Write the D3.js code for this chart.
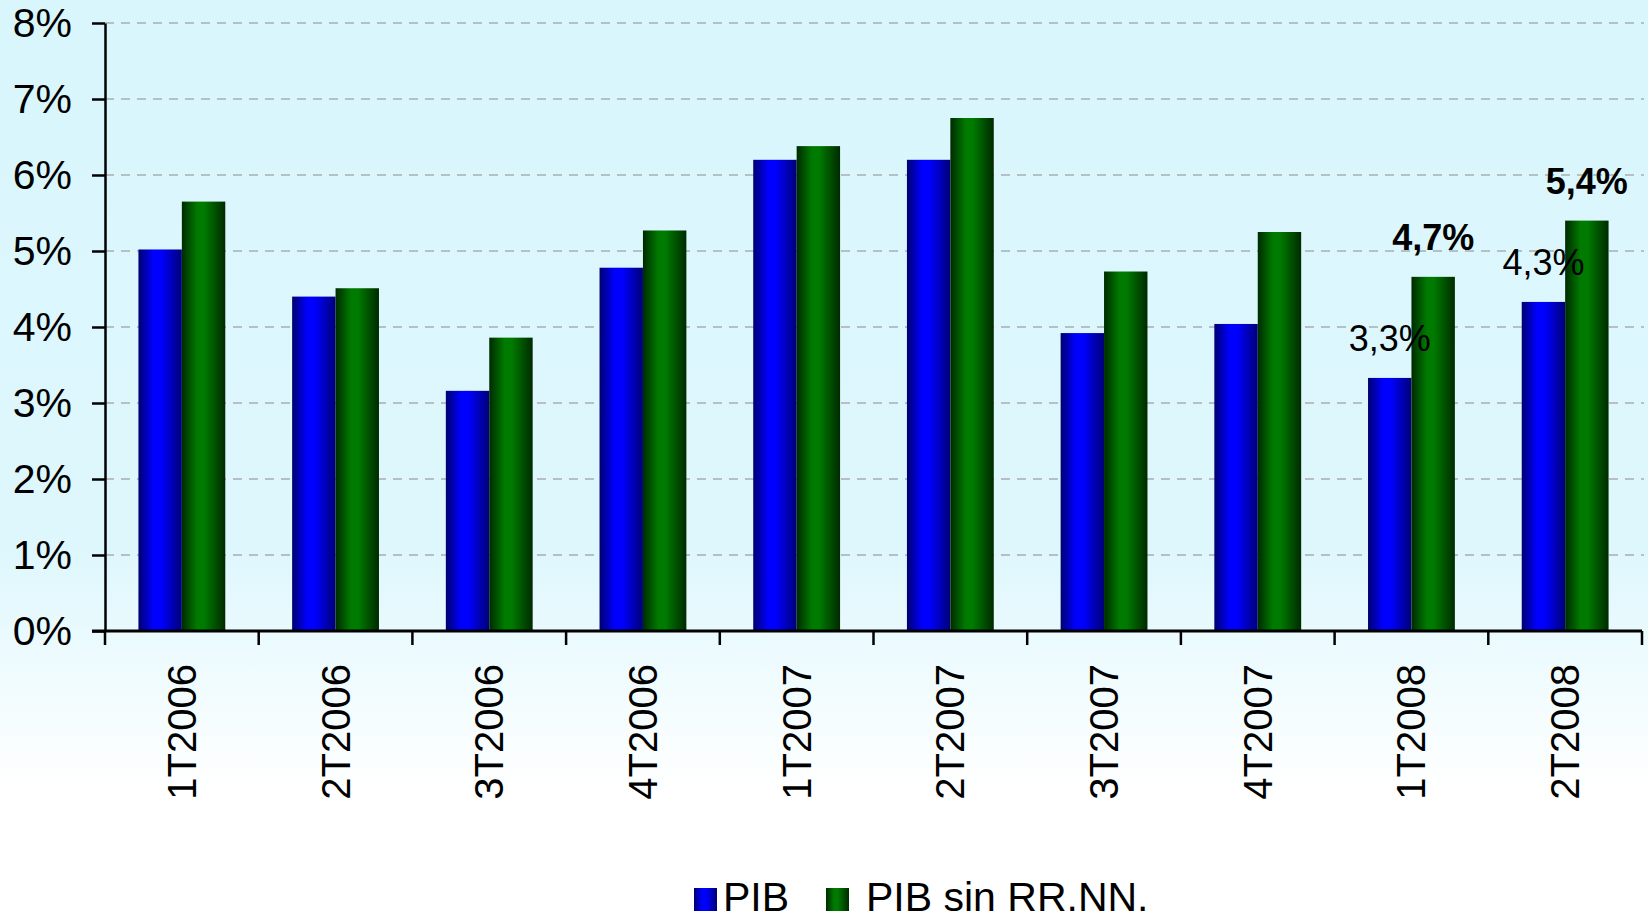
<!DOCTYPE html>
<html>
<head>
<meta charset="utf-8">
<script src="https://cdn.jsdelivr.net/npm/d3@7"></script>
<style>
  html, body { margin: 0; padding: 0; }
  body { width: 1648px; height: 921px; overflow: hidden; }
  text { font-family: "Liberation Sans", Arial, sans-serif; fill: #000; }
</style>
</head>
<body>
<svg id="chart" width="1648" height="921"></svg>
<script>
// quarters and growth rates (%)
const quarters = ["1T2006", "2T2006", "3T2006", "4T2006", "1T2007",
                  "2T2007", "3T2007", "4T2007", "1T2008", "2T2008"]
const pib = [5.02, 4.40, 3.16, 4.78, 6.20, 6.20, 3.92, 4.04, 3.33, 4.33]
const pibSinRRNN = [5.65, 4.51, 3.86, 5.27, 6.38, 6.75, 4.73, 5.25, 4.66, 5.40]
const seriesNames = ["PIB", "PIB sin RR.NN."]
const yTicks = [0, 1, 2, 3, 4, 5, 6, 7, 8]
// value labels shown above some bars
const labels = [
    {quarter: "1T2008", series: 0, text: "3,3%", bold: false},
    {quarter: "1T2008", series: 1, text: "4,7%", bold: true},
    {quarter: "2T2008", series: 0, text: "4,3%", bold: false},
    {quarter: "2T2008", series: 1, text: "5,4%", bold: true},
]

const width = 1648
const height = 921
const margin = {left: 105, right: 6, top: 23, bottom: 290}

let svg = d3.select("#chart")
let defs = svg.append("defs")

// page background: light cyan fading to white at the bottom
let bg = defs.append("linearGradient")
    .attr("id", "bg").attr("x1", 0).attr("y1", 0).attr("x2", 0).attr("y2", 1)
bg.append("stop").attr("offset", "0%").attr("stop-color", "#d9f6fd")
bg.append("stop").attr("offset", "60%").attr("stop-color", "#def7fd")
bg.append("stop").attr("offset", "72%").attr("stop-color", "#eefbfe")
bg.append("stop").attr("offset", "86%").attr("stop-color", "#ffffff")
bg.append("stop").attr("offset", "100%").attr("stop-color", "#ffffff")
svg.append("rect")
    .attr("width", width).attr("height", height)
    .attr("fill", "url(#bg)")

// cylinder-like shading for the bars
function barGradient(id, dark, light, edge) {
    let g = defs.append("linearGradient")
        .attr("id", id).attr("x1", 0).attr("y1", 0).attr("x2", 1).attr("y2", 0)
    g.append("stop").attr("offset", "0%").attr("stop-color", dark)
    g.append("stop").attr("offset", "35%").attr("stop-color", light)
    g.append("stop").attr("offset", "52%").attr("stop-color", light)
    g.append("stop").attr("offset", "100%").attr("stop-color", edge)
}
barGradient("gradBlue", "#000070", "#0000ff", "#000078")
barGradient("gradGreen", "#002a00", "#007a00", "#002a00")
const fills = ["url(#gradBlue)", "url(#gradGreen)"]

let x = d3.scaleBand()
    .domain(quarters)
    .range([margin.left, width - margin.right])
let xs = d3.scaleBand()
    .domain([0, 1])
    .range([0, x.bandwidth()])
    .paddingOuter(0.77)
let y = d3.scaleLinear()
    .domain([0, 8])
    .range([height - margin.bottom, margin.top])

// dashed grid lines
svg.append("g")
    .selectAll("line")
    .data(yTicks.filter(d => d > 0))
    .join("line")
        .attr("x1", margin.left)
        .attr("x2", width - 4)
        .attr("y1", d => y(d))
        .attr("y2", d => y(d))
        .attr("stroke", "#a9aeb0")
        .attr("stroke-width", 1.5)
        .attr("stroke-dasharray", "9,7")

// bars
let groups = svg.append("g")
    .selectAll("g")
    .data(quarters)
    .join("g")
        .attr("transform", d => `translate(${x(d)},0)`)
groups.selectAll("rect")
    .data((q, i) => [pib[i], pibSinRRNN[i]].map((v, s) => ({v, s})))
    .join("rect")
        .attr("x", d => xs(d.s))
        .attr("width", xs.bandwidth())
        .attr("y", d => y(d.v))
        .attr("height", d => y(0) - y(d.v))
        .attr("fill", d => fills[d.s])

// value labels
const seriesValues = [pib, pibSinRRNN]
svg.append("g")
    .selectAll("text")
    .data(labels)
    .join("text")
        .attr("x", d => x(d.quarter) + xs(d.series) + xs.bandwidth() / 2)
        .attr("y", d => y(seriesValues[d.series][quarters.indexOf(d.quarter)]) - 27)
        .attr("text-anchor", "middle")
        .style("font-size", "36px")
        .style("font-weight", d => d.bold ? "bold" : "normal")
        .text(d => d.text)

// y axis
let yAxis = svg.append("g")
    .attr("transform", `translate(${margin.left},0)`)
    .call(d3.axisLeft(y).tickValues(yTicks).tickFormat(d => d + "%")
        .tickSize(13).tickPadding(20).tickSizeOuter(0))
yAxis.select(".domain").attr("stroke", "#000").attr("stroke-width", 2.5)
yAxis.selectAll(".tick line").attr("stroke", "#000").attr("stroke-width", 2.5)
yAxis.selectAll(".tick text")
    .style("font-size", "41px")
    .attr("font-family", null)

// x axis: ticks at the category boundaries
let xAxis = svg.append("g")
    .attr("transform", `translate(0,${y(0)})`)
xAxis.append("line")
    .attr("x1", margin.left - 13)
    .attr("x2", width - margin.right)
    .attr("stroke", "#000")
    .attr("stroke-width", 3)
xAxis.selectAll("line.tick")
    .data(quarters.concat([null]))
    .join("line")
        .classed("tick", true)
        .attr("x1", (d, i) => i < quarters.length ? x(d) : x(quarters[i - 1]) + x.bandwidth())
        .attr("x2", (d, i) => i < quarters.length ? x(d) : x(quarters[i - 1]) + x.bandwidth())
        .attr("y1", 0)
        .attr("y2", 14)
        .attr("stroke", "#000")
        .attr("stroke-width", 2.5)
xAxis.selectAll("text")
    .data(quarters)
    .join("text")
        .attr("transform", d => `translate(${x(d) + x.bandwidth() / 2},33) rotate(-90)`)
        .attr("text-anchor", "end")
        .attr("dy", "0.35em")
        .style("font-size", "40px")
        .text(d => d)

// legend
let legend = svg.append("g")
    .attr("transform", "translate(694,888)")
let items = legend.selectAll("g")
    .data(seriesNames)
    .join("g")
        .attr("transform", (d, i) => `translate(${i * 132},0)`)
items.append("rect")
    .attr("width", 23)
    .attr("height", 23)
    .attr("fill", (d, i) => fills[i])
items.append("text")
    .attr("x", (d, i) => i == 0 ? 29 : 40)
    .attr("y", 23)
    .style("font-size", "41px")
    .text(d => d)
</script>
</body>
</html>
